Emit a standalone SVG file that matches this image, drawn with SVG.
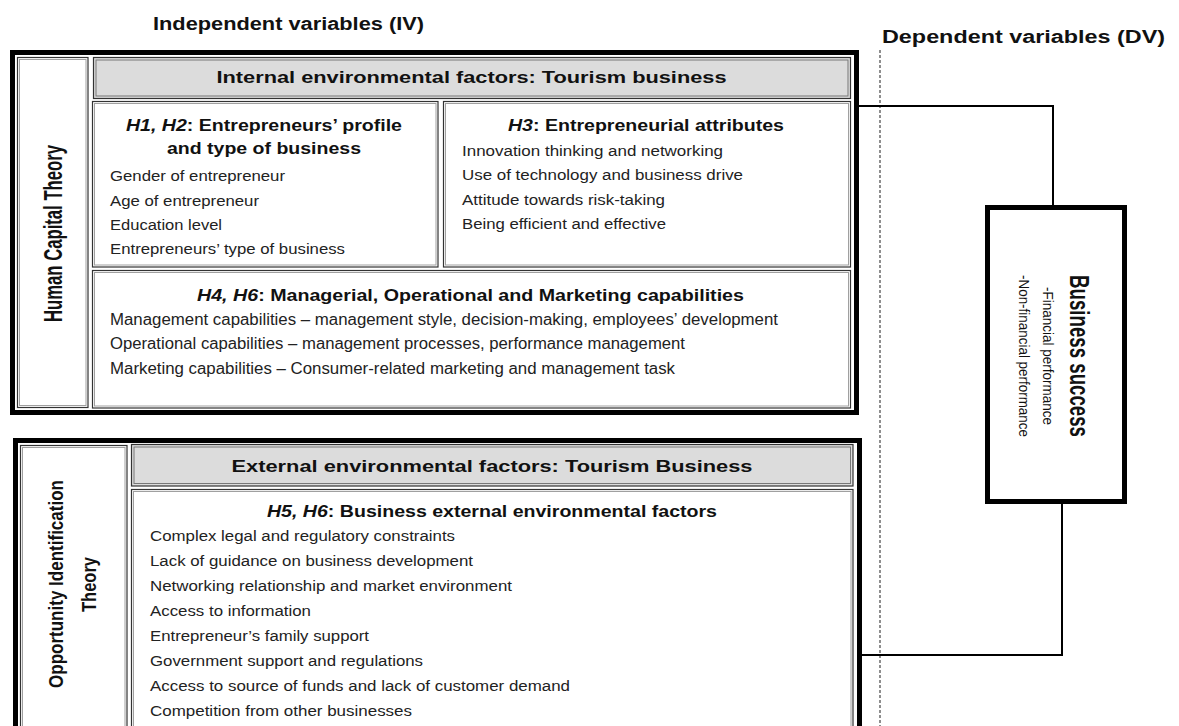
<svg xmlns="http://www.w3.org/2000/svg" width="1179" height="726" viewBox="0 0 1179 726">
<style>
.box{fill:none;stroke:#000;stroke-width:5}
.cell{fill:#fff;stroke:#333;stroke-width:1.2}
.cellin{fill:none;stroke:#a0a0a0;stroke-width:1}
.hdr{fill:#dcdcdc;stroke:#333;stroke-width:1.2}
.hdrin{fill:none;stroke:#777;stroke-width:1}
.t{font-family:"Liberation Sans",Arial,sans-serif;fill:#111}
.item{font-size:14px;fill:#222}
.narrow{font-size:16px;fill:#222}
.h{font-size:16px;font-weight:bold}
.hd{font-size:16.5px;font-weight:bold}
.title{font-size:18px;font-weight:bold}
.rot{font-weight:bold}
.conn{fill:none;stroke:#000;stroke-width:2}
.dash{stroke:#444;stroke-width:1.2;stroke-dasharray:3 2}
</style>

<g id="titles">
<text class="t title" x="153" y="30" textLength="271" lengthAdjust="spacingAndGlyphs">Independent variables (IV)</text>
<text class="t title" x="882" y="43" textLength="283" lengthAdjust="spacingAndGlyphs">Dependent variables (DV)</text>
</g>

<g id="divider">
<line class="dash" x1="880" y1="50" x2="880" y2="726"/>
</g>

<g id="internal-box">
<rect class="box" x="12.5" y="52.5" width="844" height="360"/>
</g>

<g id="human-capital">
<rect class="cell" x="17.5" y="57.5" width="70.5" height="350"/>
<rect class="cellin" x="19.5" y="59.5" width="66.5" height="346"/>
<text class="t rot" font-size="25" transform="translate(53,233.5) rotate(-90)" x="0" y="9" text-anchor="middle" textLength="177" lengthAdjust="spacingAndGlyphs">Human Capital Theory</text>
</g>

<g id="internal-header">
<rect class="hdr" x="93.5" y="57.5" width="757" height="41"/>
<rect class="hdrin" x="96" y="60" width="752" height="36"/>
<text class="t hd" x="471.5" y="83" text-anchor="middle" textLength="510" lengthAdjust="spacingAndGlyphs">Internal environmental factors: Tourism business</text>
</g>

<g id="h1h2">
<rect class="cell" x="92.5" y="101.5" width="345.5" height="165.5"/>
<rect class="cellin" x="94.5" y="103.5" width="341.5" height="161.5"/>
<text class="t h" x="264" y="131" text-anchor="middle" textLength="276" lengthAdjust="spacingAndGlyphs"><tspan font-style="italic">H1, H2</tspan>: Entrepreneurs’ profile</text>
<text class="t h" x="264" y="154" text-anchor="middle" textLength="194" lengthAdjust="spacingAndGlyphs">and type of business</text>
<text class="t item" x="110" y="181" textLength="175" lengthAdjust="spacingAndGlyphs">Gender of entrepreneur</text>
<text class="t item" x="110" y="205.5" textLength="149" lengthAdjust="spacingAndGlyphs">Age of entrepreneur</text>
<text class="t item" x="110" y="230" textLength="112" lengthAdjust="spacingAndGlyphs">Education level</text>
<text class="t item" x="110" y="254" textLength="235" lengthAdjust="spacingAndGlyphs">Entrepreneurs’ type of business</text>
</g>

<g id="h3">
<rect class="cell" x="443.5" y="101.5" width="407" height="165.5"/>
<rect class="cellin" x="445.5" y="103.5" width="403" height="161.5"/>
<text class="t h" x="646" y="131" text-anchor="middle" textLength="276" lengthAdjust="spacingAndGlyphs"><tspan font-style="italic">H3</tspan>: Entrepreneurial attributes</text>
<text class="t item" x="462" y="155.5" textLength="261" lengthAdjust="spacingAndGlyphs">Innovation thinking and networking</text>
<text class="t item" x="462" y="180" textLength="281" lengthAdjust="spacingAndGlyphs">Use of technology and business drive</text>
<text class="t item" x="462" y="204.5" textLength="203" lengthAdjust="spacingAndGlyphs">Attitude towards risk-taking</text>
<text class="t item" x="462" y="229" textLength="204" lengthAdjust="spacingAndGlyphs">Being efficient and effective</text>
</g>

<g id="h4h6">
<rect class="cell" x="92.5" y="270.5" width="758" height="137.5"/>
<rect class="cellin" x="94.5" y="272.5" width="754" height="133.5"/>
<text class="t hd" x="470.5" y="301" text-anchor="middle" textLength="547" lengthAdjust="spacingAndGlyphs"><tspan font-style="italic">H4, H6</tspan>: Managerial, Operational and Marketing capabilities</text>
<text class="t narrow" x="110" y="325" textLength="668" lengthAdjust="spacingAndGlyphs">Management capabilities – management style, decision-making, employees’ development</text>
<text class="t narrow" x="110" y="349" textLength="575" lengthAdjust="spacingAndGlyphs">Operational capabilities – management processes, performance management</text>
<text class="t narrow" x="110" y="374" textLength="565" lengthAdjust="spacingAndGlyphs">Marketing capabilities – Consumer-related marketing and management task</text>
</g>

<g id="external-box">
<rect class="box" x="15.5" y="440.5" width="844" height="300"/>
</g>

<g id="opportunity">
<rect class="cell" x="20.5" y="445.5" width="106.5" height="290"/>
<rect class="cellin" x="22.5" y="447.5" width="102.5" height="286"/>
<text class="t rot" font-size="20" transform="translate(56,584) rotate(-90)" x="0" y="7" text-anchor="middle" textLength="208" lengthAdjust="spacingAndGlyphs">Opportunity Identification</text>
<text class="t rot" font-size="20" transform="translate(89,584.5) rotate(-90)" x="0" y="7" text-anchor="middle" textLength="55" lengthAdjust="spacingAndGlyphs">Theory</text>
</g>

<g id="external-header">
<rect class="hdr" x="131.5" y="444.5" width="721.5" height="41.5"/>
<rect class="hdrin" x="134" y="447" width="716.5" height="36.5"/>
<text class="t hd" x="492" y="472" text-anchor="middle" textLength="521" lengthAdjust="spacingAndGlyphs">External environmental factors: Tourism Business</text>
</g>

<g id="h5h6">
<rect class="cell" x="131.5" y="489.5" width="721.5" height="250"/>
<rect class="cellin" x="133.5" y="491.5" width="717.5" height="246"/>
<text class="t h" x="492" y="517" text-anchor="middle" textLength="450" lengthAdjust="spacingAndGlyphs"><tspan font-style="italic">H5, H6</tspan>: Business external environmental factors</text>
<text class="t item" x="150" y="540.5" textLength="305" lengthAdjust="spacingAndGlyphs">Complex legal and regulatory constraints</text>
<text class="t item" x="150" y="565.5" textLength="323" lengthAdjust="spacingAndGlyphs">Lack of guidance on business development</text>
<text class="t item" x="150" y="590.5" textLength="362" lengthAdjust="spacingAndGlyphs">Networking relationship and market environment</text>
<text class="t item" x="150" y="615.5" textLength="161" lengthAdjust="spacingAndGlyphs">Access to information</text>
<text class="t item" x="150" y="640.5" textLength="219" lengthAdjust="spacingAndGlyphs">Entrepreneur’s family support</text>
<text class="t item" x="150" y="665.5" textLength="273" lengthAdjust="spacingAndGlyphs">Government support and regulations</text>
<text class="t item" x="150" y="690.5" textLength="420" lengthAdjust="spacingAndGlyphs">Access to source of funds and lack of customer demand</text>
<text class="t item" x="150" y="715.5" textLength="262" lengthAdjust="spacingAndGlyphs">Competition from other businesses</text>
</g>

<g id="business-success">
<rect class="box" x="987.5" y="207.5" width="137" height="294"/>
<text class="t rot" font-size="27" transform="translate(1080,356) rotate(90)" x="0" y="10" text-anchor="middle" textLength="162" lengthAdjust="spacingAndGlyphs">Business success</text>
<text class="t" font-size="15" transform="translate(1048,356) rotate(90)" x="0" y="5" text-anchor="middle" textLength="138" lengthAdjust="spacingAndGlyphs">-Financial performance</text>
<text class="t" font-size="15" transform="translate(1024,356) rotate(90)" x="0" y="5" text-anchor="middle" textLength="162" lengthAdjust="spacingAndGlyphs">-Non-financial performance</text>
</g>

<g id="connectors">
<path class="conn" d="M858,106 H1053 V206"/>
<path class="conn" d="M1062,503 V655 H861"/>
</g>
</svg>
